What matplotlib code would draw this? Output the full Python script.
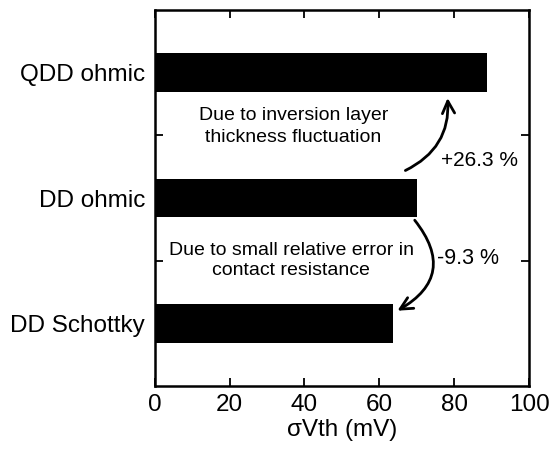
import matplotlib.pyplot as plt
import numpy as np

plt.rcParams['font.family'] = ['Liberation Sans', 'DejaVu Sans']

categories = ['DD Schottky', 'DD ohmic', 'QDD ohmic']
sigma_vth = [63.7, 70.2, 88.7]
xticks = [0, 20, 40, 60, 80, 100]

fig = plt.figure(figsize=(5.49, 4.53), dpi=100)
ax = fig.add_axes([0.2818, 0.1479, 0.6818, 0.8300])

ypos = np.arange(len(categories))
ax.barh(ypos, sigma_vth, height=0.31, color='black')

ax.set_xlim(0, 100)
ax.set_ylim(-0.5, 2.5)
ax.set_xticks(xticks)
ax.set_xticklabels([str(t) for t in xticks], fontsize=17.5)
ax.set_yticks(ypos)
ax.set_yticklabels(categories, fontsize=17.5)
ax.set_yticks([0.5, 1.5], minor=True)
ax.tick_params(axis='y', which='major', length=0, pad=7)
ax.tick_params(axis='y', which='minor', direction='in', length=6, width=1.3,
               left=True, right=True)
ax.tick_params(axis='x', direction='in', length=6, width=1.3, top=True, pad=6)
ax.set_xlabel('σVth (mV)', fontsize=17.5, labelpad=2)
for s in ax.spines.values():
    s.set_linewidth(1.8)

# curved arrows between bars
ax.annotate('', xy=(78.2, 1.82), xytext=(66.3, 1.21),
            arrowprops=dict(arrowstyle='->', lw=2, color='black',
                            mutation_scale=22,
                            connectionstyle='arc3,rad=0.35'))
ax.annotate('', xy=(64.2, 0.09), xytext=(69.0, 0.84),
            arrowprops=dict(arrowstyle='->', lw=2, color='black',
                            mutation_scale=22,
                            connectionstyle='arc3,rad=-0.6'))

ax.text(37, 1.57, 'Due to inversion layer\nthickness fluctuation',
        ha='center', va='center', fontsize=14, linespacing=1.45)
ax.text(36.5, 0.5, 'Due to small relative error in\ncontact resistance',
        ha='center', va='center', fontsize=14, linespacing=1.2)
ax.text(76.5, 1.3, '+26.3 %', ha='left', va='center', fontsize=15)
ax.text(75.5, 0.52, '-9.3 %', ha='left', va='center', fontsize=15.5)

fig.savefig('out.png', dpi=100)
